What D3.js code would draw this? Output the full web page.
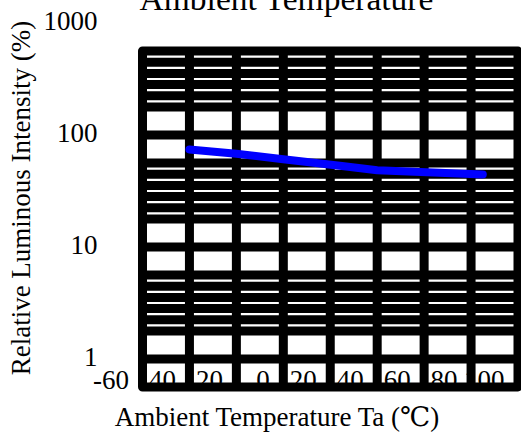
<!DOCTYPE html>
<html>
<head>
<meta charset="utf-8">
<script src="https://cdn.jsdelivr.net/npm/d3@7"></script>
<style>
  html, body { margin: 0; padding: 0; background: #fff; }
  svg { display: block; }
  svg text { font-family: "Liberation Serif", "DejaVu Serif", serif; fill: #000; }
</style>
</head>
<body>
<div class="js-container"></div>
<script>
;(function() {
  'use strict';

  // Temperature (C) and relative luminous intensity (%).
  var temps = [-40, -20, 0, 25, 40, 85];
  var intensity = [132, 121, 108, 94, 86, 79];

  var xTicks = [-60, -40, -20, 0, 20, 40, 60, 80, 100];
  var xTickLabels = ['-60', '40', '20', '0', '20', '40', '60', '80', '100'];
  var yTicks = [1, 10, 100, 1000];

  // Minor grid lines inside each decade (mantissa of the decade start).
  var decades = [1, 10, 100];
  var minorMantissas = [7.94, 6.31, 5.01, 3.98, 3.16, 1.78];

  var W = 521, H = 439;
  var left = 142.5, right = 518, top = 51, bottom = 387;
  var gridW = 9;
  var serif = '"Liberation Serif", "DejaVu Serif", serif';

  var svg = d3.select('.js-container').append('svg')
              .attr('width', W)
              .attr('height', H);

  var x = d3.scaleLinear().domain([-60, 100]).range([left, right]);
  var y = d3.scaleLog().domain([1, 1000]).range([bottom, top]);

  // Tick labels first: the heavy grid is painted over them.
  var xAxis = d3.axisBottom(x)
                .tickValues(xTicks)
                .tickSize(0)
                .tickFormat(function(d, i) { return xTickLabels[i]; });

  var gx = svg.append('g')
      .attr('transform', 'translate(0,' + bottom + ')')
      .call(xAxis)
      .attr('font-family', serif)
      .attr('font-size', 27);
  gx.select('.domain').remove();
  gx.selectAll('text')
      .attr('text-anchor', 'end')
      .attr('x', -14)
      .attr('y', 2)
      .attr('dy', 0);

  var yAxis = d3.axisLeft(y)
                .tickValues(yTicks)
                .tickSize(0)
                .tickFormat(d3.format('d'));

  var gy = svg.append('g')
      .attr('transform', 'translate(' + left + ',0)')
      .call(yAxis)
      .attr('font-family', serif)
      .attr('font-size', 27);
  gy.select('.domain').remove();
  gy.selectAll('text')
      .attr('text-anchor', 'end')
      .attr('x', -45)
      .attr('y', -22)
      .attr('dy', 0);

  // Minor horizontal grid.
  var minorVals = [];
  decades.forEach(function(d) {
    minorMantissas.forEach(function(m) { minorVals.push(d * m); });
  });

  var grid = svg.append('g')
      .attr('stroke', '#000')
      .attr('stroke-width', gridW);

  grid.selectAll('line.h')
      .data(minorVals.concat(yTicks.slice(1, -1)))
      .enter().append('line')
      .attr('class', 'h')
      .attr('x1', left).attr('x2', right)
      .attr('y1', function(d) { return y(d); })
      .attr('y2', function(d) { return y(d); });

  grid.selectAll('line.v')
      .data(xTicks.slice(1, -1))
      .enter().append('line')
      .attr('class', 'v')
      .attr('y1', top).attr('y2', bottom)
      .attr('x1', function(d) { return x(d); })
      .attr('x2', function(d) { return x(d); });

  // Frame.
  svg.append('rect')
      .attr('x', left).attr('y', top)
      .attr('width', right - left)
      .attr('height', bottom - top)
      .attr('fill', 'none')
      .attr('stroke', '#000')
      .attr('stroke-width', gridW)
      .attr('stroke-linejoin', 'round');

  // The curve.
  var line = d3.line()
      .x(function(d, i) { return x(temps[i]); })
      .y(function(d) { return y(d); });

  svg.append('path')
      .datum(intensity)
      .attr('d', line)
      .attr('fill', 'none')
      .attr('stroke', '#0000ff')
      .attr('stroke-width', 8)
      .attr('stroke-linecap', 'round')
      .attr('stroke-linejoin', 'round');

  // Titles.
  svg.append('text')
      .attr('x', 286.5).attr('y', 10)
      .attr('text-anchor', 'middle')
      .attr('font-size', 33.5)
      .text('Ambient Temperature');

  svg.append('text')
      .attr('x', 277).attr('y', 426)
      .attr('text-anchor', 'middle')
      .attr('font-size', 27)
      .text('Ambient Temperature Ta (\u2103)');

  svg.append('text')
      .attr('transform', 'translate(30,198) rotate(-90)')
      .attr('text-anchor', 'middle')
      .attr('font-size', 27)
      .text('Relative Luminous Intensity (%)');

}());
</script>
</body>
</html>
